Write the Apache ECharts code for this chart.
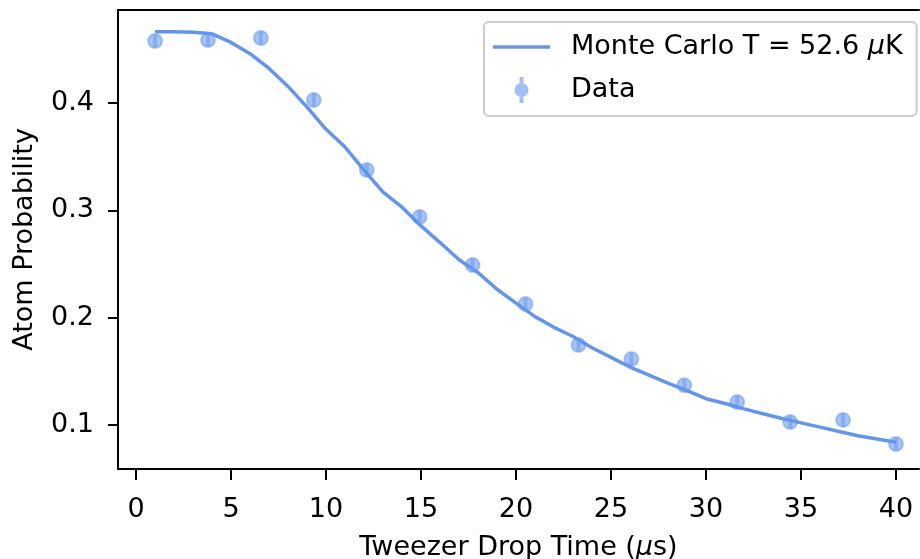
<!DOCTYPE html>
<html>
<head>
<meta charset="utf-8">
<script src="https://cdn.jsdelivr.net/npm/echarts@6/dist/echarts.min.js"></script>
<style>html,body{margin:0;padding:0;background:#fff}#c{width:920px;height:559px}</style>
</head>
<body>
<div id="c"></div>
<script>
// Data points
const dataX = [1, 3.786, 6.571, 9.357, 12.143, 14.929, 17.714, 20.5, 23.286, 26.071, 28.857, 31.643, 34.429, 37.214, 40];
const dataY = [0.4578, 0.4587, 0.4606, 0.4028, 0.3376, 0.2938, 0.2490, 0.2127, 0.1745, 0.1615, 0.1370, 0.1214, 0.1028, 0.1047, 0.0823];
const dataErr = [0.006, 0.006, 0.006, 0.006, 0.006, 0.006, 0.006, 0.006, 0.006, 0.006, 0.006, 0.006, 0.006, 0.006, 0.006];
// Monte Carlo curve
const mcX = [1,2,3,4,5,6,7,8,9,10,11,12,13,14,15,16,17,18,19,20,21,22,23,24,25,26,27,28,29,30,31,32,33,34,35,36,37,38,39,40];
const mcY = [0.4665,0.4665,0.4660,0.4645,0.4565,0.4460,0.4322,0.4155,0.3962,0.3755,0.3590,0.3375,0.3170,0.3030,0.2855,0.2700,0.2540,0.2420,0.2265,0.2135,0.2010,0.1910,0.1825,0.1720,0.1630,0.1540,0.1465,0.1390,0.1320,0.1245,0.1200,0.1150,0.1105,0.1060,0.1020,0.0980,0.0940,0.0900,0.0870,0.0840];
const xTicks = [0,5,10,15,20,25,30,35,40];
const yTicks = [0.1,0.2,0.3,0.4];
const mcName = 'Monte Carlo T = 52.6 μK';
const dataName = 'Data';

const FONT = 'DejaVu Sans';
const FS = 27;
const BLUE = '#6495ED';
const XMIN = -0.95, XMAX = 41.21;
const chart = echarts.init(document.getElementById('c'), null, {renderer:'canvas'});
chart.setOption({
  animation: false,
  textStyle: {fontFamily: FONT},
  grid: {left: 118, top: 10, width: 801, bottom: 90, outerBoundsMode: 'none', containLabel: false, show: false},
  xAxis: [{
    type: 'value', min: XMIN, max: XMAX,
    axisLine: {onZero: false, lineStyle: {color: '#000', width: 2}},
    axisTick: {show: true, length: 11, lineStyle: {color: '#000', width: 2}, customValues: xTicks},
    axisLabel: {color: '#000', fontSize: FS, fontFamily: FONT, margin: 27, customValues: xTicks},
    splitLine: {show: false},
    name: 'Tweezer Drop Time ({i|μ}s)', nameLocation: 'middle', nameGap: 65,
    nameTextStyle: {color: '#000', fontSize: FS, fontFamily: FONT, rich: {i: {fontStyle: 'italic', fontSize: FS, fontFamily: FONT, color:'#000'}}}
  }, {
    type: 'value', position: 'top', min: XMIN, max: XMAX,
    axisLine: {show: true, onZero: false, lineStyle: {color: '#000', width: 2}},
    axisTick: {show: false}, axisLabel: {show: false}, splitLine: {show: false}
  }],
  yAxis: {
    type: 'value', min: 0.059, max: 0.4867,
    axisLine: {onZero: false, lineStyle: {color: '#000', width: 2}},
    axisTick: {show: true, length: 10, lineStyle: {color: '#000', width: 2}, customValues: yTicks},
    axisLabel: {color: '#000', fontSize: FS, fontFamily: FONT, margin: 24, customValues: yTicks, formatter: v => String(v)},
    splitLine: {show: false},
    name: 'Atom Probability', nameLocation: 'middle', nameGap: 80,
    nameTextStyle: {color: '#000', fontSize: FS, fontFamily: FONT}
  },
  legend: {
    orient: 'vertical', left: 484, top: 22,
    padding: [10, 14, 11, 9],
    itemWidth: 57, itemHeight: 26, itemGap: 13,
    backgroundColor: 'rgba(255,255,255,0.8)', borderColor: '#cccccc', borderWidth: 2, borderRadius: 5,
    textStyle: {color: '#000', fontSize: FS, fontFamily: FONT, lineHeight: 30, padding: [0,0,0,16],
      rich: {i: {fontStyle: 'italic', fontSize: FS, fontFamily: FONT, color: '#000', lineHeight: 30}}},
    formatter: n => n === mcName ? 'Monte Carlo T = 52.6 {i|μ}K' : n,
    data: [
      {name: mcName, icon: 'path://M0,0 L57,0 L57,3.5 L0,3.5 Z', itemStyle: {color: BLUE, borderWidth: 0}},
      {name: dataName, icon: 'path://M5,0 L9,0 L9,6 L5,6 Z M5,20 L9,20 L9,26 L5,26 Z M0,13 A7,7 0 1,1 14,13 A7,7 0 1,1 0,13 Z', itemStyle: {color: 'rgba(100,149,237,0.75)', borderWidth: 0}}
    ]
  },
  series: [
    {
      name: mcName, type: 'line', symbol: 'none', smooth: false,
      lineStyle: {color: BLUE, width: 3.5}, itemStyle: {color: BLUE},
      data: mcX.map((x, i) => [x, mcY[i]]), z: 2
    },
    {
      name: 'errbars', type: 'custom', z: 3,
      data: dataX.map((x, i) => [x, dataY[i] - dataErr[i], dataY[i] + dataErr[i]]),
      renderItem: (params, api) => {
        const x = api.value(0);
        const p1 = api.coord([x, api.value(1)]);
        const p2 = api.coord([x, api.value(2)]);
        return {type: 'line', shape: {x1: p1[0], y1: p1[1], x2: p2[0], y2: p2[1]}, style: {stroke: 'rgba(100,149,237,0.5)', lineWidth: 4}};
      }
    },
    {
      name: dataName, type: 'scatter', symbol: 'circle', symbolSize: 14, z: 4,
      itemStyle: {color: 'rgba(100,149,237,0.7)', borderColor: 'rgba(100,149,237,0.6)', borderWidth: 2},
      data: dataX.map((x, i) => [x, dataY[i]])
    }
  ]
});
</script>
</body>
</html>
